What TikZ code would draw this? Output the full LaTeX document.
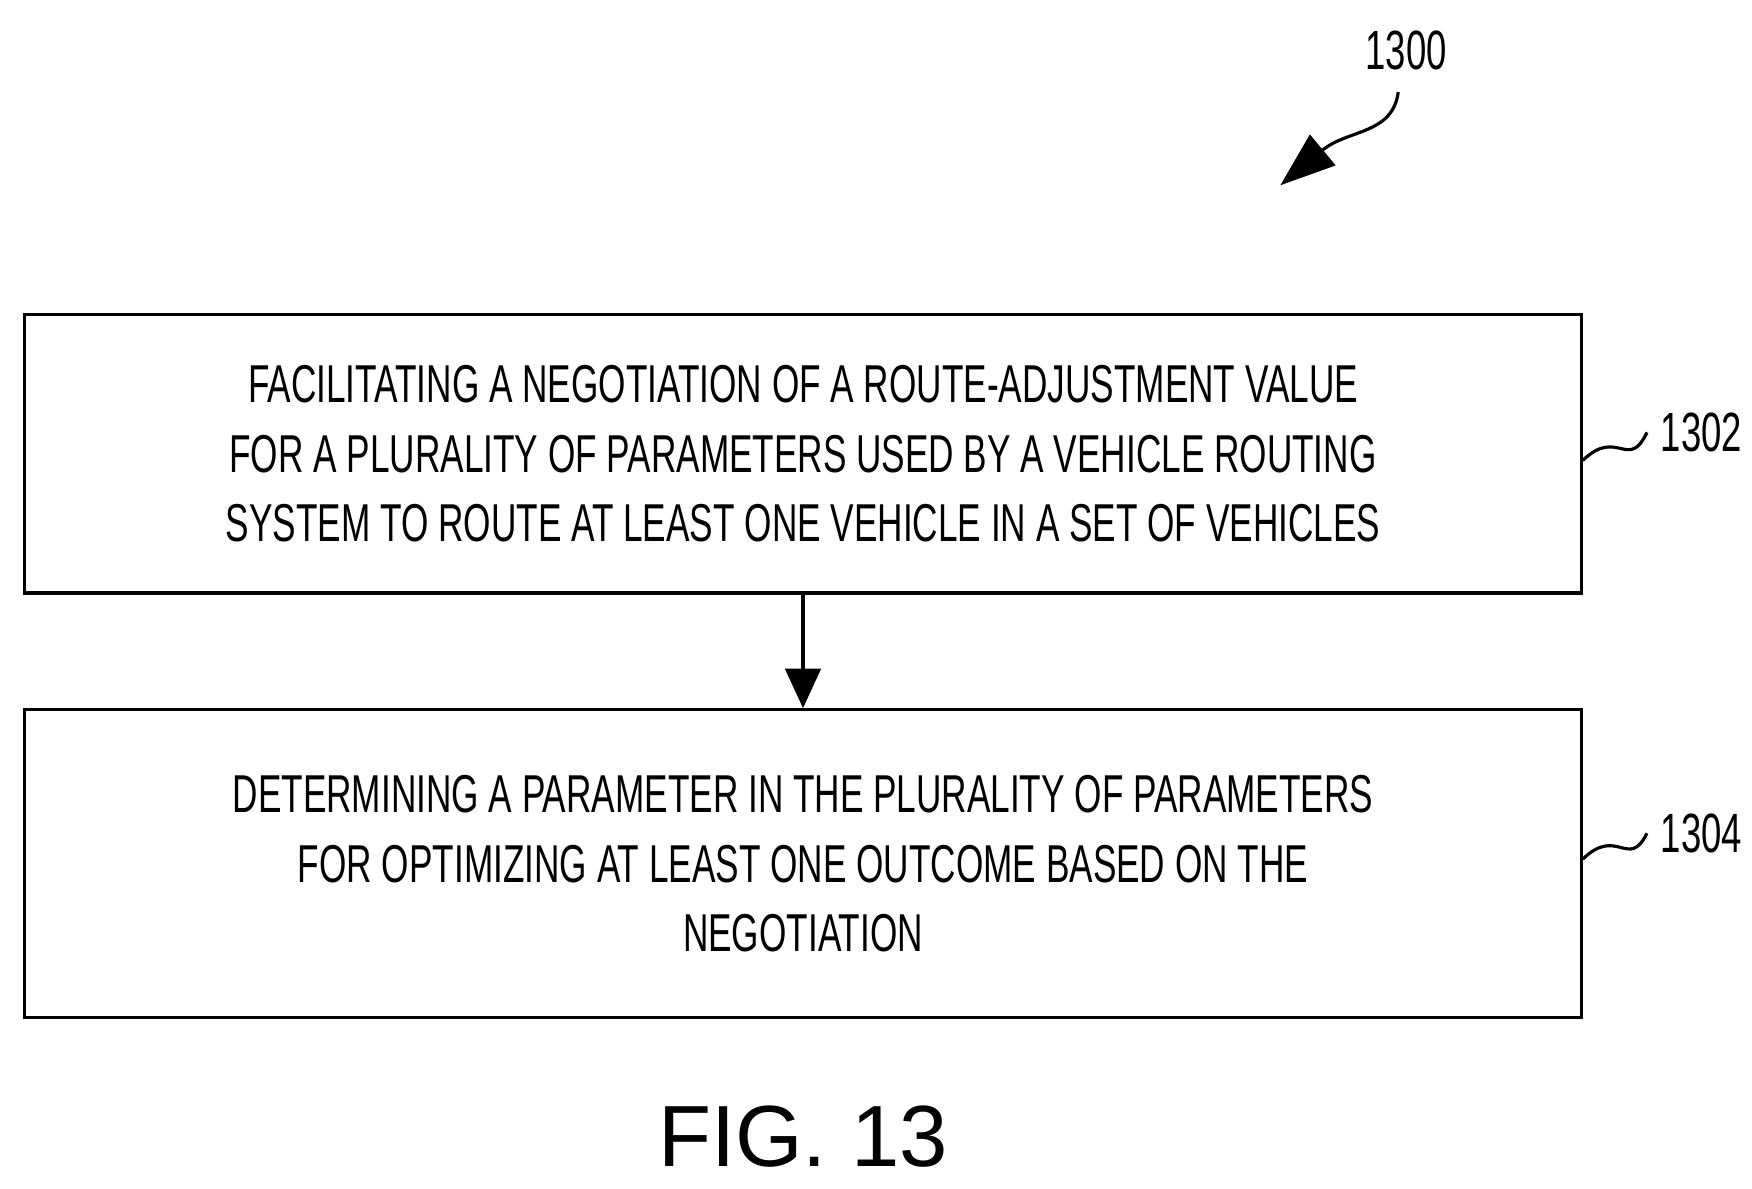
\documentclass[tikz,border=0pt]{standalone}
\usepackage{fontspec}
\setmainfont{Liberation Sans}
\newfontfamily\condfont[FakeStretch=0.66]{Liberation Sans}
\usetikzlibrary{positioning,arrows.meta}
\tikzset{
  stepbox/.style={draw, thick, minimum width=13.85cm, align=center,
    font=\condfont\fontsize{13.5}{17.5}\selectfont},
  reflabel/.style={font=\condfont\fontsize{14}{16}\selectfont},
  flow/.style={thick, -{Triangle[length=10pt,width=9pt]}}
}
\begin{document}
\begin{tikzpicture}[x=0.01cm,y=-0.01cm]
  \useasboundingbox (0,0) rectangle (1560,1058);

  % steps
  \node[stepbox, minimum height=2.48cm] (s1) at (715,404)
    {FACILITATING A NEGOTIATION OF A ROUTE-ADJUSTMENT VALUE\\
     FOR A PLURALITY OF PARAMETERS USED BY A VEHICLE ROUTING\\
     SYSTEM TO ROUTE AT LEAST ONE VEHICLE IN A SET OF VEHICLES};
  \node[stepbox, minimum height=2.74cm] (s2) at (715,769)
    {DETERMINING A PARAMETER IN THE PLURALITY OF PARAMETERS\\
     FOR OPTIMIZING AT LEAST ONE OUTCOME BASED ON THE\\
     NEGOTIATION};
  \draw[flow] (s1) -- (s2);

  % reference numerals
  \node[reflabel] (l1) at (1515,385) {1302};
  \node[reflabel] (l2) at (1515,742) {1304};
  \node[reflabel] (l0) at (1252,45) {1300};
  \draw[thick] (s1.east |- 0,410) .. controls (1440,380) and (1450,420) .. (l1.west);
  \draw[thick] (s2.east |- 0,765) .. controls (1440,735) and (1450,775) .. (l2.west);
  \coordinate (a0) at (1140,165);
  \draw[thick, -{Triangle[length=14pt,width=10pt]}] (1245,82) .. controls (1240,120) and (1200,115) .. (a0);

  \node[font=\fontsize{22}{22}\selectfont] (fig) at (715,1012) {FIG. 13};
\end{tikzpicture}
\end{document}
